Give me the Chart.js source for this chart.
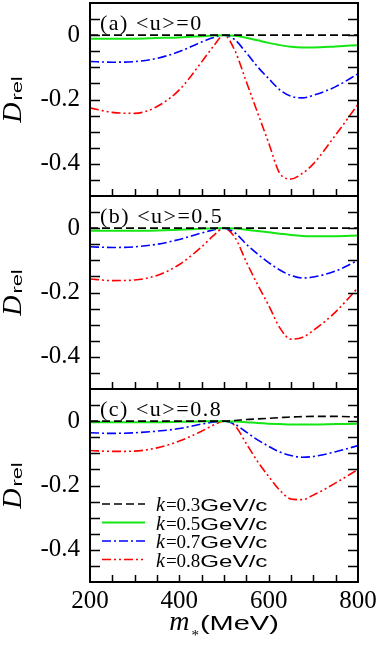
<!DOCTYPE html>
<html>
<head>
<meta charset="utf-8">
<script src="https://cdn.jsdelivr.net/npm/chart.js@4.4.1/dist/chart.umd.min.js"></script>
<style>
  html, body { margin: 0; padding: 0; background: #fff; }
  canvas { display: block; }
</style>
</head>
<body>
<canvas id="chart" width="382" height="651"></canvas>
<script>
// m_* values (MeV)
const mass = [200, 250, 300, 350, 400, 450, 475, 500, 525, 550, 575, 600, 625, 650, 675, 700, 750, 800];

// (a) <u>=0
const k03a = [0, 0, 0, 0, 0, 0, 0, 0, 0, 0, 0, 0, 0, 0, 0, 0, 0, 0];
const k05a = [-0.011, -0.011, -0.011, -0.009, -0.007, -0.003, -0.001, 0, -0.002, -0.008, -0.016, -0.024, -0.031, -0.036, -0.038, -0.038, -0.035, -0.031];
const k07a = [-0.082, -0.084, -0.082, -0.072, -0.051, -0.021, -0.008, 0, -0.015, -0.055, -0.098, -0.135, -0.170, -0.190, -0.195, -0.187, -0.160, -0.120];
const k08a = [-0.226, -0.240, -0.243, -0.222, -0.170, -0.083, -0.037, 0, -0.050, -0.145, -0.240, -0.335, -0.430, -0.447, -0.430, -0.400, -0.310, -0.215];

// (b) <u>=0.5
const k03b = [0, 0, 0, 0, 0, 0, 0, 0, 0, 0, 0, 0, 0, 0, 0, 0, 0, 0];
const k05b = [-0.008, -0.008, -0.008, -0.007, -0.005, -0.002, -0.001, 0, -0.001, -0.005, -0.009, -0.013, -0.017, -0.021, -0.024, -0.025, -0.025, -0.023];
const k07b = [-0.058, -0.060, -0.058, -0.050, -0.035, -0.015, -0.006, 0, -0.015, -0.050, -0.080, -0.107, -0.130, -0.147, -0.155, -0.152, -0.133, -0.100];
const k08b = [-0.158, -0.163, -0.161, -0.147, -0.113, -0.058, -0.025, 0, -0.030, -0.105, -0.175, -0.240, -0.310, -0.345, -0.340, -0.318, -0.260, -0.185];

// (c) <u>=0.8
const k03c = [0, 0, 0, 0, 0, 0, 0, 0, 0.002, 0.005, 0.007, 0.009, 0.011, 0.013, 0.014, 0.015, 0.015, 0.013];
const k05c = [-0.003, -0.003, -0.003, -0.003, -0.002, -0.001, 0, 0, -0.001, -0.003, -0.006, -0.008, -0.009, -0.010, -0.010, -0.010, -0.009, -0.008];
const k07c = [-0.036, -0.038, -0.036, -0.031, -0.023, -0.009, -0.003, 0, -0.010, -0.034, -0.058, -0.078, -0.096, -0.107, -0.112, -0.110, -0.095, -0.076];
const k08c = [-0.091, -0.094, -0.093, -0.083, -0.062, -0.031, -0.013, 0, -0.015, -0.070, -0.125, -0.172, -0.215, -0.242, -0.244, -0.230, -0.192, -0.150];

const kLabels = ['0.3', '0.5', '0.7', '0.8'];
const panelTitles = ['(a) <u>=0', '(b) <u>=0.5', '(c) <u>=0.8'];
const yTicks = [-0.45, -0.4, -0.35, -0.3, -0.25, -0.2, -0.15, -0.1, -0.05, 0, 0.05];
const yLabelTicks = [0, -0.2, -0.4];
const xTicks = [200, 250, 300, 350, 400, 450, 500, 550, 600, 650, 700, 750, 800];
const xLabelTicks = [200, 400, 600, 800];

const panelSeries = [[k03a, k05a, k07a, k08a], [k03b, k05b, k07b, k08b], [k03c, k05c, k07c, k08c]];
const axisIds = ['ya', 'yb', 'yc'];
const styles = [
    { color: '#000000', dash: [8, 4], width: 1.6 },
    { color: '#14e614', dash: [], width: 2 },
    { color: '#0000ff', dash: [9, 3, 2, 3], width: 1.6 },
    { color: '#ff0000', dash: [9, 3, 2, 3, 2, 3], width: 1.6 }
];

const datasets = [];
panelSeries.forEach((series, p) => {
    series.forEach((vals, k) => {
        datasets.push({
            label: 'k=' + kLabels[k] + ' ' + panelTitles[p],
            yAxisID: axisIds[p],
            data: mass.map((m, i) => ({ x: m, y: vals[i] })),
            borderColor: styles[k].color,
            borderDash: styles[k].dash,
            borderWidth: styles[k].width,
            pointRadius: 0,
            cubicInterpolationMode: 'monotone',
            fill: false
        });
    });
});

function yScale() {
    return {
        type: 'linear',
        position: 'left',
        stack: 'panels',
        stackWeight: 1,
        min: -0.5,
        max: 0.1,
        afterBuildTicks: s => { s.ticks = yTicks.map(v => ({ value: v })); },
        afterFit: s => { s.width = 90; s.paddingTop = 0; s.paddingBottom = 0; },
        grid: { display: false, drawTicks: false },
        border: { display: false },
        ticks: {
            autoSkip: false,
            padding: 10,
            color: '#000',
            font: { family: 'Liberation Serif', size: 25 },
            callback: v => yLabelTicks.includes(v) ? (v === 0 ? '0' : v.toFixed(1)) : ''
        }
    };
}

// draws text, sx stretches it horizontally, returns advance
function piece(ctx, text, x, y, font, sx) {
    sx = sx || 1;
    ctx.save();
    ctx.font = font;
    ctx.translate(x, y);
    ctx.scale(sx, 1);
    ctx.fillText(text, 0, 0);
    const w = ctx.measureText(text).width * sx;
    ctx.restore();
    return w;
}
function widthOf(ctx, text, font, sx) {
    ctx.save();
    ctx.font = font;
    const w = ctx.measureText(text).width * (sx || 1);
    ctx.restore();
    return w;
}

const SANS_STRETCH = 1.45;

const decorations = {
    id: 'decorations',
    afterDraw(chart) {
        const ctx = chart.ctx;
        const area = chart.chartArea;
        const xs = chart.scales.x;
        ctx.save();
        ctx.fillStyle = '#000';
        ctx.strokeStyle = '#000';
        ctx.textBaseline = 'alphabetic';
        ctx.textAlign = 'left';

        axisIds.forEach((id, p) => {
            const s = chart.scales[id];
            // frame
            ctx.lineWidth = 2;
            ctx.strokeRect(area.left, s.top, area.right - area.left, s.bottom - s.top);
            // inward ticks
            ctx.lineWidth = 1.5;
            ctx.beginPath();
            yTicks.forEach(v => {
                const y = Math.round(s.getPixelForValue(v)) + 0.5;
                ctx.moveTo(area.left, y); ctx.lineTo(area.left + 10, y);
                ctx.moveTo(area.right, y); ctx.lineTo(area.right - 10, y);
            });
            xTicks.slice(1, -1).forEach(m => {
                const x = Math.round(xs.getPixelForValue(m)) + 0.5;
                ctx.moveTo(x, s.bottom); ctx.lineTo(x, s.bottom - 7);
            });
            ctx.stroke();

            // panel title
            ctx.save();
            ctx.font = '22px "Liberation Serif"';
            ctx.letterSpacing = '1.5px';
            ctx.fillText(panelTitles[p], area.left + 10, s.top + 27);
            ctx.restore();

            // y title D_rel
            const fD = 'italic 28px "Liberation Serif"';
            const fRel = '15px "Liberation Sans"';
            const total = widthOf(ctx, 'D', fD) + 2 + widthOf(ctx, 'rel', fRel, SANS_STRETCH);
            ctx.save();
            ctx.translate(21, (s.top + s.bottom) / 2);
            ctx.rotate(-Math.PI / 2);
            let tx = -total / 2;
            tx += piece(ctx, 'D', tx, 0, fD) + 2;
            piece(ctx, 'rel', tx, 1, fRel, SANS_STRETCH);
            ctx.restore();
        });

        // x title m_* (MeV)
        const fm = 'italic 28px "Liberation Serif"';
        const fs = '15px "Liberation Serif"';
        const fu = '20px "Liberation Sans"';
        const totalX = widthOf(ctx, 'm', fm) + 2 + widthOf(ctx, '*', fs) + 1 + widthOf(ctx, '(MeV)', fu, SANS_STRETCH);
        let x0 = (area.left + area.right) / 2 - totalX / 2;
        const base = chart.height - 21;
        x0 += piece(ctx, 'm', x0, base, fm) + 2;
        x0 += piece(ctx, '*', x0, base + 10, fs) + 1;
        piece(ctx, '(MeV)', x0, base, fu, SANS_STRETCH);

        // legend in panel (c)
        const sc = chart.scales.yc;
        kLabels.forEach((k, i) => {
            const yc = sc.top + 115 + i * 18.5;
            ctx.save();
            ctx.strokeStyle = styles[i].color;
            ctx.lineWidth = styles[i].width;
            ctx.setLineDash(styles[i].dash);
            ctx.beginPath();
            ctx.moveTo(area.left + 12, yc);
            ctx.lineTo(area.left + 55, yc);
            ctx.stroke();
            ctx.restore();
            let lx = area.left + 66;
            const by = yc + 7;
            lx += piece(ctx, 'k', lx, by, 'italic 20px "Liberation Serif"') + 1;
            lx += piece(ctx, '=' + k, lx, by, '19px "Liberation Serif"');
            piece(ctx, 'GeV/c', lx, by, '17px "Liberation Sans"', 1.42);
        });
        ctx.restore();
    }
};

const ctx = document.getElementById('chart').getContext('2d');
new Chart(ctx, {
    type: 'line',
    data: { datasets: datasets },
    options: {
        responsive: false,
        animation: false,
        events: [],
        layout: { padding: { left: 0, right: 24, top: 3, bottom: 0 } },
        plugins: { legend: { display: false }, tooltip: { enabled: false } },
        scales: {
            x: {
                type: 'linear',
                min: 200,
                max: 800,
                afterBuildTicks: s => { s.ticks = xTicks.map(v => ({ value: v })); },
                afterFit: s => { s.height = 69; s.paddingLeft = 0; s.paddingRight = 0; },
                grid: { display: false, drawTicks: false },
                border: { display: false },
                ticks: {
                    autoSkip: false,
                    maxRotation: 0,
                    padding: 4,
                    color: '#000',
                    font: { family: 'Liberation Serif', size: 25 },
                    callback: v => xLabelTicks.includes(v) ? String(v) : ''
                }
            },
            yc: yScale(),
            yb: yScale(),
            ya: yScale()
        }
    },
    plugins: [decorations]
});
</script>
</body>
</html>
